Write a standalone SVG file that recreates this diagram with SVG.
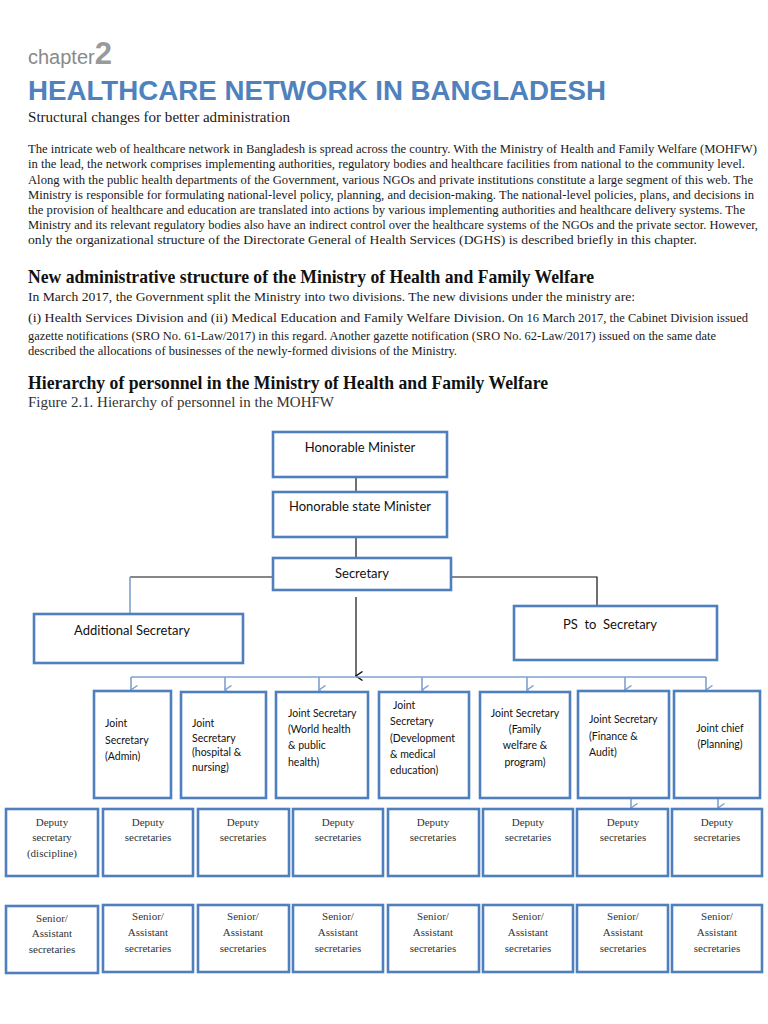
<svg xmlns="http://www.w3.org/2000/svg" width="768" height="1024" viewBox="0 0 768 1024">
<style>
.serif{font-family:"Liberation Serif","Times New Roman",serif;fill:#1a1a1a}
.p{font-size:12.5px}
.h{font-size:19px;font-weight:bold;fill:#111}
.box{fill:#fff;stroke:#4f7fbc;stroke-width:2.6}
.lbl{font-family:Lato,"Open Sans","Liberation Sans",sans-serif;font-size:10.5px;fill:#111}
.top{font-size:13px}
.sm{font-family:"Liberation Serif","Times New Roman",serif;font-size:11px;fill:#333;text-anchor:middle}
.blk{stroke:#111;stroke-width:1.2;fill:none}
.blu{stroke:#7ea2cf;stroke-width:1.6;fill:none}
</style>
<defs>
<marker id="ab" markerWidth="10" markerHeight="8" refX="5" refY="7" orient="auto" markerUnits="userSpaceOnUse" viewBox="0 0 10 8">
<path d="M0.5,0.5 L5,7 L9.5,0.5" fill="none" stroke="#7ea2cf" stroke-width="1.4"/>
</marker>
<marker id="ak" markerWidth="10" markerHeight="8" refX="5" refY="7" orient="auto" markerUnits="userSpaceOnUse" viewBox="0 0 10 8">
<path d="M0.5,0.5 L5,7 L9.5,0.5" fill="none" stroke="#111" stroke-width="1.4"/>
</marker>
</defs>
<rect width="768" height="1024" fill="#fff"/>

<g id="header">
<text x="28" y="64" font-family="Liberation Sans,Arial,sans-serif" font-size="20" fill="#8a8a8a">chapter<tspan font-size="31" font-weight="bold" fill="#9a9a9a">2</tspan></text>
<text x="28" y="100" font-family="Liberation Sans,Arial,sans-serif" font-size="27.5" font-weight="bold" fill="#4f81bd" textLength="578" lengthAdjust="spacingAndGlyphs">HEALTHCARE NETWORK IN BANGLADESH</text>
<text class="serif" x="28" y="122" font-size="15" textLength="262" lengthAdjust="spacingAndGlyphs">Structural changes for better administration</text>
</g>

<g id="intro" class="serif p">
<text x="28" y="153" textLength="729" lengthAdjust="spacingAndGlyphs">The intricate web of healthcare network in Bangladesh is spread across the country. With the Ministry of Health and Family Welfare (MOHFW)</text>
<text x="28" y="168" textLength="717" lengthAdjust="spacingAndGlyphs">in the lead, the network comprises implementing authorities, regulatory bodies and healthcare facilities from national to the community level.</text>
<text x="28" y="184" textLength="725" lengthAdjust="spacingAndGlyphs">Along with the public health departments of the Government, various NGOs and private institutions constitute a large segment of this web. The</text>
<text x="28" y="199" textLength="726" lengthAdjust="spacingAndGlyphs">Ministry is responsible for formulating national-level policy, planning, and decision-making. The national-level policies, plans, and decisions in</text>
<text x="28" y="214" textLength="717" lengthAdjust="spacingAndGlyphs">the provision of healthcare and education are translated into actions by various implementing authorities and healthcare delivery systems. The</text>
<text x="28" y="229" textLength="730" lengthAdjust="spacingAndGlyphs">Ministry and its relevant regulatory bodies also have an indirect control over the healthcare systems of the NGOs and the private sector. However,</text>
<text x="28" y="244" textLength="669" lengthAdjust="spacingAndGlyphs">only the organizational structure of the Directorate General of Health Services (DGHS) is described briefly in  this chapter.</text>
</g>

<g id="section1" class="serif">
<text class="h" x="28" y="283" textLength="566" lengthAdjust="spacingAndGlyphs">New administrative structure of the Ministry of Health and Family Welfare</text>
<text class="p" x="28" y="301" textLength="607" lengthAdjust="spacingAndGlyphs">In March 2017, the Government split the Ministry into two divisions. The new divisions under the ministry are:</text>
<text x="28" y="322" font-size="13.5" textLength="477" lengthAdjust="spacingAndGlyphs">(i) Health  Services Division and (ii) Medical Education and Family Welfare Division.</text>
<text x="508" y="322" font-size="12" textLength="240" lengthAdjust="spacingAndGlyphs">On 16 March 2017, the Cabinet Division issued</text>
<text x="28" y="340" font-size="12" textLength="688" lengthAdjust="spacingAndGlyphs">gazette notifications (SRO No. 61-Law/2017) in this regard. Another gazette notification (SRO No. 62-Law/2017) issued on the same date</text>
<text x="28" y="355" font-size="12" textLength="429" lengthAdjust="spacingAndGlyphs">described the allocations of businesses of the newly-formed divisions of the Ministry.</text>
<text class="h" x="28" y="389" textLength="520" lengthAdjust="spacingAndGlyphs">Hierarchy of personnel in the Ministry of Health and Family Welfare</text>
<text x="28" y="407" font-size="15" fill="#333" textLength="306" lengthAdjust="spacingAndGlyphs">Figure 2.1. Hierarchy of personnel in the MOHFW</text>
</g>

<g id="connectors">
<line class="blk" x1="356" y1="477" x2="356" y2="492"/>
<line class="blk" x1="356" y1="537" x2="356" y2="558"/>
<polyline class="blk" points="273,577 130,577"/>
<line class="blu" x1="130" y1="577" x2="130" y2="614"/>
<polyline class="blk" points="451,577 597,577 597,606"/>
<line class="blk" x1="356" y1="597" x2="356" y2="676" marker-end="url(#ak)"/>
<line class="blu" x1="131" y1="677" x2="706" y2="677"/>
<line class="blu" x1="131" y1="677" x2="131" y2="690" marker-end="url(#ab)"/>
<line class="blu" x1="225" y1="677" x2="225" y2="690" marker-end="url(#ab)"/>
<line class="blu" x1="319" y1="677" x2="319" y2="690" marker-end="url(#ab)"/>
<line class="blu" x1="422" y1="677" x2="422" y2="690" marker-end="url(#ab)"/>
<line class="blu" x1="527" y1="677" x2="527" y2="690" marker-end="url(#ab)"/>
<line class="blu" x1="625" y1="677" x2="625" y2="690" marker-end="url(#ab)"/>
<line class="blu" x1="706" y1="677" x2="706" y2="690" marker-end="url(#ab)"/>
<line class="blu" x1="631" y1="798" x2="631" y2="808" marker-end="url(#ab)"/>
<line class="blu" x1="718" y1="798" x2="718" y2="808" marker-end="url(#ab)"/>
</g>

<g id="n-minister"><rect class="box" x="273" y="432" width="174" height="45"/><text class="lbl top" x="360" y="452" text-anchor="middle">Honorable Minister</text></g>
<g id="n-state"><rect class="box" x="273" y="492" width="174" height="45"/><text class="lbl top" x="360" y="511" text-anchor="middle">Honorable state Minister</text></g>
<g id="n-secretary"><rect class="box" x="273" y="558" width="178" height="32"/><text class="lbl top" x="362" y="578" text-anchor="middle">Secretary</text></g>
<g id="n-addl"><rect class="box" x="34" y="614" width="209" height="49"/><text class="lbl top" x="132" y="635" text-anchor="middle">Additional Secretary</text></g>
<g id="n-ps"><rect class="box" x="514" y="606" width="203" height="54"/><text class="lbl top" x="610" y="629" text-anchor="middle" xml:space="preserve">PS  to  Secretary</text></g>

<g id="n-js1"><rect class="box" x="94" y="691" width="77" height="107"/><text class="lbl" x="105" y="727"><tspan x="105">Joint</tspan><tspan x="105" dy="17">Secretary</tspan><tspan x="105" dy="16">(Admin)</tspan></text></g>
<g id="n-js2"><rect class="box" x="181" y="692" width="85" height="106"/><text class="lbl" x="192" y="727"><tspan x="192">Joint</tspan><tspan x="192" dy="15">Secretary</tspan><tspan x="192" dy="14">(hospital &amp;</tspan><tspan x="192" dy="15">nursing)</tspan></text></g>
<g id="n-js3"><rect class="box" x="276" y="692" width="92" height="106"/><text class="lbl" x="288" y="717"><tspan x="288">Joint Secretary</tspan><tspan x="288" dy="16">(World health</tspan><tspan x="288" dy="16">&amp; public</tspan><tspan x="288" dy="17">health)</tspan></text></g>
<g id="n-js4"><rect class="box" x="379" y="692" width="90" height="106"/><text class="lbl" x="390" y="709"><tspan x="393">Joint</tspan><tspan x="390" dy="16">Secretary</tspan><tspan x="390" dy="17">(Development</tspan><tspan x="390" dy="16">&amp; medical</tspan><tspan x="390" dy="16">education)</tspan></text></g>
<g id="n-js5"><rect class="box" x="480" y="692" width="90" height="106"/><text class="lbl" x="525" y="717" text-anchor="middle"><tspan x="525">Joint Secretary</tspan><tspan x="525" dy="16">(Family</tspan><tspan x="525" dy="16">welfare &amp;</tspan><tspan x="525" dy="17">program)</tspan></text></g>
<g id="n-js6"><rect class="box" x="578" y="691" width="91" height="107"/><text class="lbl" x="589" y="723"><tspan x="589">Joint Secretary</tspan><tspan x="589" dy="17">(Finance &amp;</tspan><tspan x="589" dy="16">Audit)</tspan></text></g>
<g id="n-js7"><rect class="box" x="674" y="691" width="86" height="107"/><text class="lbl" x="720" y="732" text-anchor="middle"><tspan x="720">Joint chief</tspan><tspan x="720" dy="16">(Planning)</tspan></text></g>

<g id="n-dep1"><rect class="box" x="6" y="809" width="92" height="67"/><text class="sm" y="826"><tspan x="52">Deputy</tspan><tspan x="52" dy="15">secretary</tspan><tspan x="52" dy="16">(discipline)</tspan></text></g>
<g id="n-dep2"><rect class="box" x="103" y="809" width="90" height="67"/><text class="sm" y="826"><tspan x="148">Deputy</tspan><tspan x="148" dy="15">secretaries</tspan></text></g>
<g id="n-dep3"><rect class="box" x="198" y="809" width="91" height="67"/><text class="sm" y="826"><tspan x="243">Deputy</tspan><tspan x="243" dy="15">secretaries</tspan></text></g>
<g id="n-dep4"><rect class="box" x="293" y="809" width="90" height="67"/><text class="sm" y="826"><tspan x="338">Deputy</tspan><tspan x="338" dy="15">secretaries</tspan></text></g>
<g id="n-dep5"><rect class="box" x="388" y="809" width="91" height="67"/><text class="sm" y="826"><tspan x="433">Deputy</tspan><tspan x="433" dy="15">secretaries</tspan></text></g>
<g id="n-dep6"><rect class="box" x="483" y="809" width="90" height="67"/><text class="sm" y="826"><tspan x="528">Deputy</tspan><tspan x="528" dy="15">secretaries</tspan></text></g>
<g id="n-dep7"><rect class="box" x="577" y="809" width="91" height="67"/><text class="sm" y="826"><tspan x="623">Deputy</tspan><tspan x="623" dy="15">secretaries</tspan></text></g>
<g id="n-dep8"><rect class="box" x="672" y="809" width="90" height="67"/><text class="sm" y="826"><tspan x="717">Deputy</tspan><tspan x="717" dy="15">secretaries</tspan></text></g>

<g id="n-sen1"><rect class="box" x="6" y="906" width="92" height="67"/><text class="sm" y="922"><tspan x="52">Senior/</tspan><tspan x="52" dy="15">Assistant</tspan><tspan x="52" dy="16">secretaries</tspan></text></g>
<g id="n-sen2"><rect class="box" x="103" y="905" width="90" height="67"/><text class="sm" y="920"><tspan x="148">Senior/</tspan><tspan x="148" dy="16">Assistant</tspan><tspan x="148" dy="16">secretaries</tspan></text></g>
<g id="n-sen3"><rect class="box" x="198" y="905" width="91" height="67"/><text class="sm" y="920"><tspan x="243">Senior/</tspan><tspan x="243" dy="16">Assistant</tspan><tspan x="243" dy="16">secretaries</tspan></text></g>
<g id="n-sen4"><rect class="box" x="293" y="905" width="90" height="67"/><text class="sm" y="920"><tspan x="338">Senior/</tspan><tspan x="338" dy="16">Assistant</tspan><tspan x="338" dy="16">secretaries</tspan></text></g>
<g id="n-sen5"><rect class="box" x="388" y="905" width="91" height="67"/><text class="sm" y="920"><tspan x="433">Senior/</tspan><tspan x="433" dy="16">Assistant</tspan><tspan x="433" dy="16">secretaries</tspan></text></g>
<g id="n-sen6"><rect class="box" x="483" y="905" width="90" height="67"/><text class="sm" y="920"><tspan x="528">Senior/</tspan><tspan x="528" dy="16">Assistant</tspan><tspan x="528" dy="16">secretaries</tspan></text></g>
<g id="n-sen7"><rect class="box" x="577" y="905" width="91" height="67"/><text class="sm" y="920"><tspan x="623">Senior/</tspan><tspan x="623" dy="16">Assistant</tspan><tspan x="623" dy="16">secretaries</tspan></text></g>
<g id="n-sen8"><rect class="box" x="672" y="905" width="90" height="67"/><text class="sm" y="920"><tspan x="717">Senior/</tspan><tspan x="717" dy="16">Assistant</tspan><tspan x="717" dy="16">secretaries</tspan></text></g>
</svg>
